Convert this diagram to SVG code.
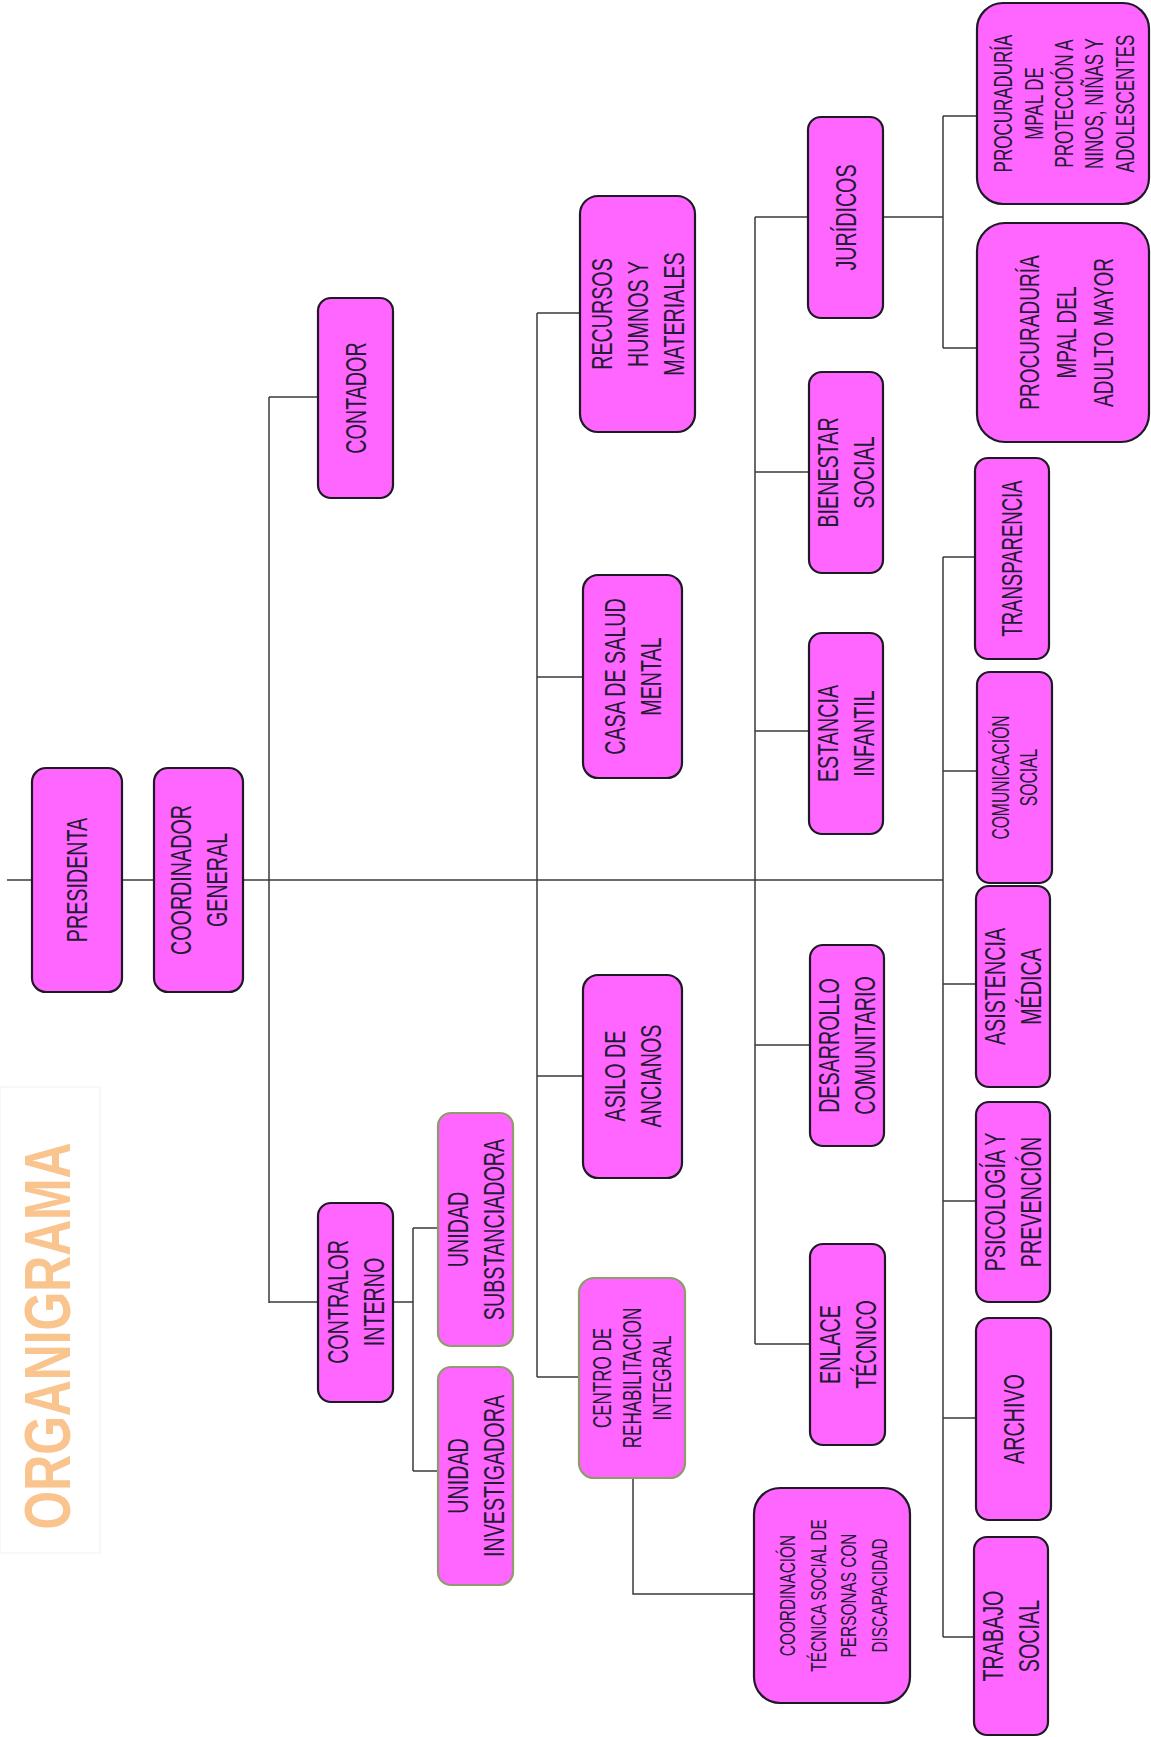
<svg xmlns="http://www.w3.org/2000/svg" width="1151" height="1737" viewBox="0 0 1151 1737">
<style>
.box{fill:#FF66FF;stroke:#1e1a24;stroke-width:2.2}
.gbox{fill:#FF66FF;stroke:#8E9C6C;stroke-width:2.2}
.t{font-family:"Liberation Sans",Arial,sans-serif;font-size:29px;fill:#231a33;text-anchor:middle}
.s25{font-size:25px}
.s22{font-size:22px}
.s23{font-size:23px}
.s28{font-size:28px}
.ln{stroke:#3a3a3a;stroke-width:1.5;fill:none}
</style>
<rect width="1151" height="1737" fill="#ffffff"/>
<g id="title">
<rect x="0" y="1087" width="100" height="466" fill="none" stroke="#f0f0f0" stroke-width="1"/>
<text transform="translate(70,1336) rotate(-90)" font-family="Liberation Sans,Arial,sans-serif" font-weight="bold" font-size="65" fill="#FAC48E" text-anchor="middle" textLength="387" lengthAdjust="spacingAndGlyphs">ORGANIGRAMA</text>
</g>
<g id="connectors">
<path class="ln" d="M7 880H943"/>
<path class="ln" d="M269 397V1303M269 397H318M269 1302H318"/>
<path class="ln" d="M394 1302H413M413 1228V1471M413 1228H438M413 1471H438"/>
<path class="ln" d="M537 313V1377M537 313H580M537 677H583M537 1076H583M537 1377H579"/>
<path class="ln" d="M633 1478V1594H754"/>
<path class="ln" d="M755 217V1344M755 217H808M755 472H809M755 731H809M755 1045H810M755 1344H810"/>
<path class="ln" d="M883 217H943M943 116V348M943 116H977M943 348H977"/>
<path class="ln" d="M943 557V1637M943 557H975M943 771H977M943 984H976M943 1201H976M943 1418H976M943 1637H974"/>
</g>
<g id="presidenta"><rect class="box" x="32" y="768" width="90" height="224" rx="14"/>
<text class="t" transform="translate(77,880) rotate(-90) scale(0.68,1)"><tspan x="0" y="10.4">PRESIDENTA</tspan></text></g>
<g id="coordinador"><rect class="box" x="154" y="768" width="89" height="224" rx="14"/>
<text class="t" transform="translate(198.5,880) rotate(-90) scale(0.68,1)"><tspan x="0" y="-7.6">COORDINADOR</tspan><tspan x="0" y="28.4">GENERAL</tspan></text></g>
<g id="contador"><rect class="box" x="318" y="298" width="75" height="200" rx="13"/>
<text class="t" transform="translate(355.5,398) rotate(-90) scale(0.68,1)"><tspan x="0" y="10.4">CONTADOR</tspan></text></g>
<g id="contralor"><rect class="box" x="318" y="1203" width="75" height="199" rx="13"/>
<text class="t" transform="translate(355.5,1302) rotate(-90) scale(0.68,1)"><tspan x="0" y="-7.6">CONTRALOR</tspan><tspan x="0" y="28.4">INTERNO</tspan></text></g>
<g id="substanciadora"><rect class="gbox" x="438" y="1113" width="75" height="233" rx="13"/>
<text class="t" transform="translate(475.5,1229.5) rotate(-90) scale(0.68,1)"><tspan x="0" y="-7.6">UNIDAD</tspan><tspan x="0" y="28.4">SUBSTANCIADORA</tspan></text></g>
<g id="investigadora"><rect class="gbox" x="438" y="1367" width="75" height="218" rx="13"/>
<text class="t" transform="translate(475.5,1476) rotate(-90) scale(0.68,1)"><tspan x="0" y="-7.6">UNIDAD</tspan><tspan x="0" y="28.4">INVESTIGADORA</tspan></text></g>
<g id="recursos"><rect class="box" x="580" y="196" width="115" height="236" rx="18"/>
<text class="t" transform="translate(637.5,314) rotate(-90) scale(0.68,1)"><tspan x="0" y="-25.6">RECURSOS</tspan><tspan x="0" y="10.4">HUMNOS Y</tspan><tspan x="0" y="46.4">MATERIALES</tspan></text></g>
<g id="salud-mental"><rect class="box" x="583" y="575" width="99" height="203" rx="15"/>
<text class="t" transform="translate(632.5,676.5) rotate(-90) scale(0.68,1)"><tspan x="0" y="-7.6">CASA DE SALUD</tspan><tspan x="0" y="28.4">MENTAL</tspan></text></g>
<g id="asilo"><rect class="box" x="583" y="975" width="99" height="203" rx="15"/>
<text class="t" transform="translate(632.5,1076) rotate(-90) scale(0.68,1)"><tspan x="0" y="-7.6">ASILO DE</tspan><tspan x="0" y="28.4">ANCIANOS</tspan></text></g>
<g id="centro"><rect class="gbox" x="579" y="1278" width="106" height="200" rx="15"/>
<text class="t s25" transform="translate(632,1378) rotate(-90) scale(0.68,1)"><tspan x="0" y="-21">CENTRO DE</tspan><tspan x="0" y="9">REHABILITACION</tspan><tspan x="0" y="39">INTEGRAL</tspan></text></g>
<g id="coord-tecnica"><rect class="box" x="754" y="1488" width="156" height="215" rx="26"/>
<text class="t s22" transform="translate(833,1595.5) rotate(-90) scale(0.7,1)"><tspan x="0" y="-37.9">COORDINACIÓN</tspan><tspan x="0" y="-7.4">TÉCNICA SOCIAL DE</tspan><tspan x="0" y="23.1">PERSONAS CON</tspan><tspan x="0" y="53.6">DISCAPACIDAD</tspan></text></g>
<g id="juridicos"><rect class="box" x="808" y="117" width="75" height="201" rx="13"/>
<text class="t" transform="translate(845.5,217.5) rotate(-90) scale(0.68,1)"><tspan x="0" y="10.4">JURÍDICOS</tspan></text></g>
<g id="bienestar"><rect class="box" x="809" y="372" width="74" height="201" rx="13"/>
<text class="t" transform="translate(846,472.5) rotate(-90) scale(0.68,1)"><tspan x="0" y="-7.6">BIENESTAR</tspan><tspan x="0" y="28.4">SOCIAL</tspan></text></g>
<g id="estancia"><rect class="box" x="809" y="633" width="74" height="201" rx="13"/>
<text class="t" transform="translate(846,733.5) rotate(-90) scale(0.68,1)"><tspan x="0" y="-7.6">ESTANCIA</tspan><tspan x="0" y="28.4">INFANTIL</tspan></text></g>
<g id="desarrollo"><rect class="box" x="810" y="945" width="74" height="201" rx="13"/>
<text class="t" transform="translate(847,1045.5) rotate(-90) scale(0.68,1)"><tspan x="0" y="-7.6">DESARROLLO</tspan><tspan x="0" y="28.4">COMUNITARIO</tspan></text></g>
<g id="enlace"><rect class="box" x="810" y="1244" width="75" height="201" rx="13"/>
<text class="t" transform="translate(847.5,1344.5) rotate(-90) scale(0.68,1)"><tspan x="0" y="-7.6">ENLACE</tspan><tspan x="0" y="28.4">TÉCNICO</tspan></text></g>
<g id="proc-proteccion"><rect class="box" x="977" y="3" width="172" height="201" rx="26"/>
<text class="t s25" transform="translate(1064,103.5) rotate(-90) scale(0.68,1)"><tspan x="0" y="-52">PROCURADURÍA</tspan><tspan x="0" y="-21.5">MPAL DE</tspan><tspan x="0" y="9">PROTECCIÓN A</tspan><tspan x="0" y="39.5">NINOS, NIÑAS Y</tspan><tspan x="0" y="70">ADOLESCENTES</tspan></text></g>
<g id="proc-adulto"><rect class="box" x="977" y="223" width="172" height="219" rx="28"/>
<text class="t s28" transform="translate(1066,332.5) rotate(-90) scale(0.68,1)"><tspan x="0" y="-27.5">PROCURADURÍA</tspan><tspan x="0" y="10">MPAL DEL</tspan><tspan x="0" y="47.5">ADULTO MAYOR</tspan></text></g>
<g id="transparencia"><rect class="box" x="975" y="458" width="74" height="201" rx="13"/>
<text class="t" transform="translate(1012,558.5) rotate(-90) scale(0.64,1)"><tspan x="0" y="10.4">TRANSPARENCIA</tspan></text></g>
<g id="comunicacion"><rect class="box" x="977" y="672" width="75" height="211" rx="13"/>
<text class="t s23" transform="translate(1014.5,777.5) rotate(-90) scale(0.68,1)"><tspan x="0" y="-5.75">COMUNICACIÓN</tspan><tspan x="0" y="22.25">SOCIAL</tspan></text></g>
<g id="asistencia"><rect class="box" x="976" y="886" width="74" height="201" rx="13"/>
<text class="t" transform="translate(1013,986.5) rotate(-90) scale(0.68,1)"><tspan x="0" y="-7.6">ASISTENCIA</tspan><tspan x="0" y="28.4">MÉDICA</tspan></text></g>
<g id="psicologia"><rect class="box" x="976" y="1102" width="74" height="200" rx="13"/>
<text class="t" transform="translate(1013,1202) rotate(-90) scale(0.68,1)"><tspan x="0" y="-7.6">PSICOLOGÍA Y</tspan><tspan x="0" y="28.4">PREVENCIÓN</tspan></text></g>
<g id="archivo"><rect class="box" x="976" y="1318" width="75" height="202" rx="13"/>
<text class="t" transform="translate(1013.5,1419) rotate(-90) scale(0.68,1)"><tspan x="0" y="10.4">ARCHIVO</tspan></text></g>
<g id="trabajo-social"><rect class="box" x="974" y="1537" width="74" height="198" rx="13"/>
<text class="t" transform="translate(1011,1636) rotate(-90) scale(0.68,1)"><tspan x="0" y="-7.6">TRABAJO</tspan><tspan x="0" y="28.4">SOCIAL</tspan></text></g>
</svg>
